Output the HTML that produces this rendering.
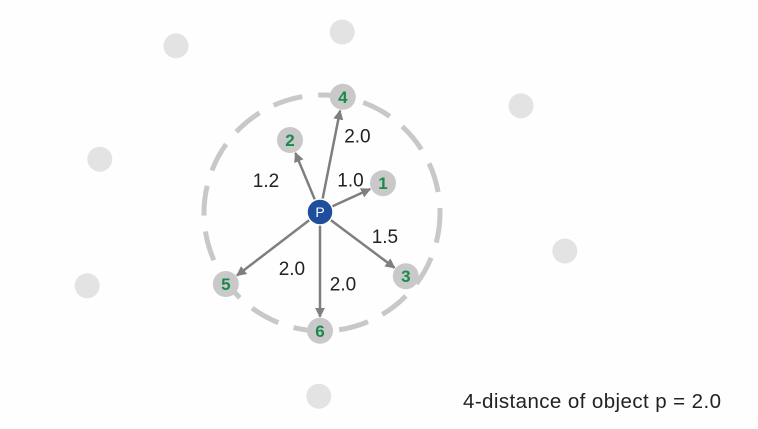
<!DOCTYPE html>
<html><head><meta charset="utf-8"><style>
html,body{margin:0;padding:0;background:#fff;}
svg{display:block;font-family:"Liberation Sans",sans-serif;}
</style></head><body>
<svg id="c" width="758" height="429" viewBox="0 0 758 429">
<defs><marker id="ah" viewBox="0 0 10 10" refX="9" refY="5" markerWidth="4" markerHeight="4" orient="auto"><path d="M0,0 L10,5 L0,10 z" fill="#7f7f7f"/></marker></defs>
<rect width="758" height="429" fill="#fefefe"/>
<circle cx="322" cy="213" r="118" fill="none" stroke="#c8c8c8" stroke-width="5" stroke-dasharray="30 16"/>
<g id="g"></g>
<text x="463" y="408" font-size="20.5" fill="#222" textLength="258">4-distance of object p = 2.0</text>
</svg>
<script>
const bgX=[-2.4,0.37,3.35,-3.67,4.08,-3.88,-0.02];
const bgY=[-2.77,-3.0,-1.77,-0.88,0.65,1.23,3.07];
const nbLabels=["4","2","1","3","5","6"];
const nbX=[0.38,-0.5,1.05,1.43,-1.57,0];
const nbY=[-1.92,-1.2,-0.48,1.07,1.2,1.98];
const distLabels=["2.0","1.2","1.0","1.5","2.0","2.0"];
const ns="http://www.w3.org/2000/svg";
const ox=320,oy=212,s=60;
const sx=v=>ox+v*s, sy=v=>oy+v*s;
const g=document.getElementById('g');
function mk(t,a){const e=document.createElementNS(ns,t);for(const k in a)e.setAttribute(k,a[k]);g.appendChild(e);return e;}
bgX.forEach((x,i)=>{const c=mk('circle',{cx:sx(x),cy:sy(bgY[i]),r:12.5,fill:'#e3e3e3'});

});
const lblOff=[[26,-19],[-39,4],[-1,-18],[22,-8],[19,20],[23,12]];
nbX.forEach((x,i)=>{
 const px=sx(x),py=sy(nbY[i]);const dx=px-ox,dy=py-oy,L=Math.hypot(dx,dy),ux=dx/L,uy=dy/L;
 const a=mk('line',{x1:ox+ux*12,y1:oy+uy*12,x2:px-ux*14,y2:py-uy*14,stroke:'#7f7f7f','stroke-width':2.5,'marker-end':'url(#ah)'});
 
 
 const t=mk('text',{x:ox+dx*0.5+lblOff[i][0],y:oy+dy*0.5+lblOff[i][1]+7,'font-size':19,fill:'#222','text-anchor':'middle'});t.textContent=distLabels[i];
 
 
});
nbX.forEach((x,i)=>{
 const c=mk('circle',{cx:sx(x),cy:sy(nbY[i]),r:13,fill:'#c9c9c9'});
 
 
 const t=mk('text',{x:sx(x),y:sy(nbY[i])+6,'font-size':17,'font-weight':'bold',fill:'#1a8a4a','text-anchor':'middle'});t.textContent=nbLabels[i];
 
 
});
const p=mk('circle',{cx:ox,cy:oy,r:13,fill:'#1f4e9c',stroke:'#fff','stroke-width':1.5});


const pt=mk('text',{x:ox,y:oy+5,'font-size':14,fill:'#fff','text-anchor':'middle'});pt.textContent='P';


</script>
</body></html>
